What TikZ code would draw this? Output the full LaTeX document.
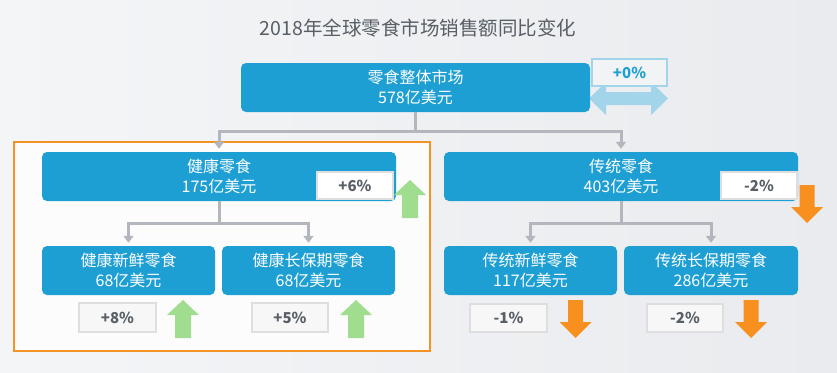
\documentclass[tikz,border=0pt]{standalone}
\usepackage{fontspec}
\setmainfont{Noto Sans CJK SC}
\usetikzlibrary{arrows.meta}
\definecolor{blu}{HTML}{1E9FD4}
\definecolor{lblu}{HTML}{A3D5EA}
\definecolor{grn}{HTML}{A0DD8F}
\definecolor{org}{HTML}{F7901E}
\definecolor{orgline}{HTML}{F39325}
\definecolor{conn}{HTML}{B3B7BD}
\definecolor{txt}{HTML}{585F66}
\definecolor{bgl}{HTML}{F4F5F7}
\definecolor{bgr}{HTML}{E9EBEE}
\begin{document}
\begin{tikzpicture}[x=1pt,y=-1pt,
  bbox/.style={fill=blu, rounded corners=5pt, text=white, align=center, inner sep=0pt,
    font=\fontsize{16}{20.5}\selectfont},
  pbox/.style={fill=white, draw=black!13, line width=1.5pt, text=txt, inner sep=0pt,
    font=\fontsize{15}{17}\selectfont\bfseries},
  pboxl/.style={pbox, fill=black!3},
  connline/.style={draw=conn, line width=3pt, -{Triangle[width=10pt,length=7pt]}, shorten >=3pt},
  uparr/.pic={\fill[grn] (0,0) -- (16,15) -- (8,15) -- (8,38) -- (-8,38) -- (-8,15) -- (-16,15) -- cycle;},
  dnarr/.pic={\fill[org] (0,38) -- (16,22) -- (7.5,22) -- (7.5,0) -- (-7.5,0) -- (-7.5,22) -- (-16,22) -- cycle;}
]
\useasboundingbox (0,0) rectangle (837,372);
\shade[left color=bgl, right color=bgr] (0,0) rectangle (837,372);
\node[text=txt, font=\fontsize{19.5}{22}\selectfont] (title) at (418,28) {2018年全球零食市场销售额同比变化};

% highlight frame
\draw[orgline, fill=white!70!bgl, line width=2pt] (14,142) rectangle (430,351);

% double arrow
\fill[lblu] (589,98.5) -- (606,82) -- (606,92) -- (651,92) -- (651,82) -- (668,98.5)
  -- (651,115) -- (651,105) -- (606,105) -- (606,115) -- cycle;

% boxes
\node[bbox, minimum width=349pt, minimum height=49pt] (top) at (415.5,87.5) {零食整体市场\\578亿美元};
\node[bbox, minimum width=354pt, minimum height=49pt] (hs) at (219,176.5) {健康零食\\175亿美元};
\node[bbox, minimum width=354pt, minimum height=49pt] (ts) at (621,176.5) {传统零食\\403亿美元};
\node[bbox, minimum width=173pt, minimum height=49pt] (hsf) at (128.5,270.5) {健康新鲜零食\\68亿美元};
\node[bbox, minimum width=173pt, minimum height=49pt] (hsl) at (308.5,270.5) {健康长保期零食\\68亿美元};
\node[bbox, minimum width=173pt, minimum height=49pt] (tsf) at (530.5,270.5) {传统新鲜零食\\117亿美元};
\node[bbox, minimum width=174pt, minimum height=49pt] (tsl) at (711,270.5) {传统长保期零食\\286亿美元};

% connectors
\draw[connline] (top.south) -- ++(0,19) -| (hs.north);
\draw[connline] (top.south) -- ++(0,19) -| (ts.north);
\draw[connline] (hs.south) -- ++(0,22) -| (hsf.north);
\draw[connline] (hs.south) -- ++(0,22) -| (hsl.north);
\draw[connline] (ts.south) -- ++(0,22) -| (tsf.north);
\draw[connline] (ts.south) -- ++(0,22) -| (tsl.north);

% percent boxes
\node[pbox, fill=bgr!60!white, draw=lblu, line width=2pt, text=blu, minimum width=75pt, minimum height=27pt] (p0) at (629.5,72.5) {+0\%};
\node[pbox, minimum width=76pt, minimum height=27pt] (p1) at (355,185.5) {+6\%};
\node[pbox, minimum width=76pt, minimum height=27pt] (p2) at (759,185.5) {-2\%};
\node[pboxl, minimum width=77pt, minimum height=29pt] (p3) at (117.5,317.5) {+8\%};
\node[pboxl, minimum width=76pt, minimum height=29pt] (p4) at (290,317.5) {+5\%};
\node[pboxl, minimum width=77pt, minimum height=28pt] (p5) at (508.5,318) {-1\%};
\node[pboxl, minimum width=76pt, minimum height=28pt] (p6) at (685,318) {-2\%};

% trend arrows
\pic at (410,180) {uparr};
\pic at (183,300) {uparr};
\pic at (356,300) {uparr};
\pic at (807,185) {dnarr};
\pic at (575.5,300) {dnarr};
\pic at (751,300) {dnarr};
\end{tikzpicture}
\end{document}
